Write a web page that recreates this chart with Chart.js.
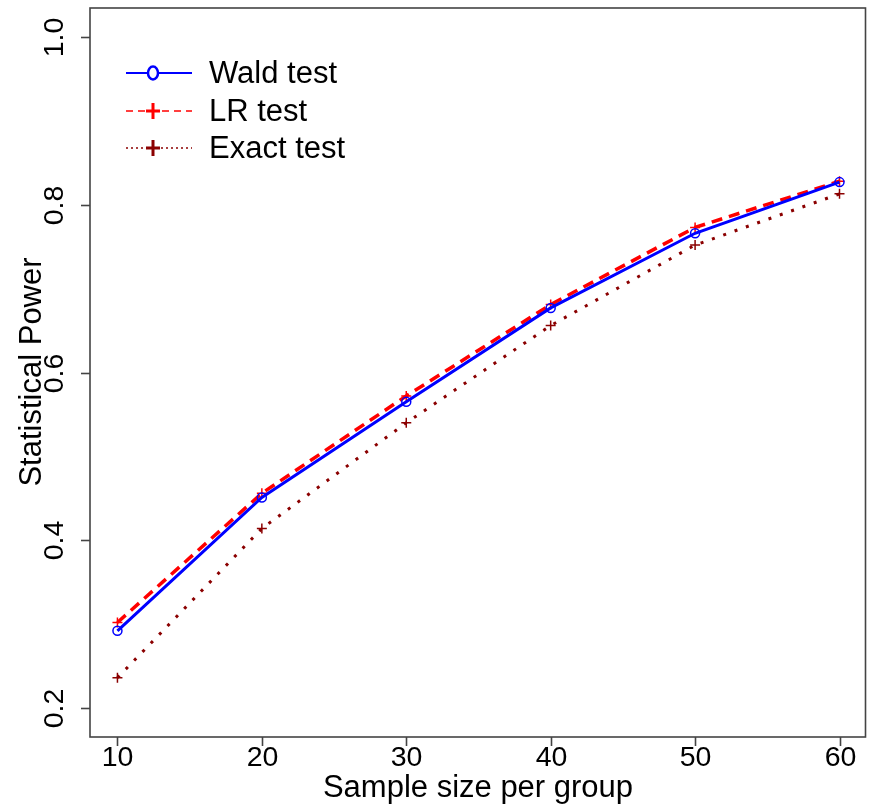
<!DOCTYPE html>
<html>
<head>
<meta charset="utf-8">
<script src="https://cdn.jsdelivr.net/npm/chart.js@4.4.1/dist/chart.umd.min.js"></script>
<style>
  html, body { margin: 0; padding: 0; background: #fff; }
  #wrap { width: 872px; height: 805px; }
</style>
</head>
<body>
<div id="wrap"><canvas id="powerChart" width="872" height="805"></canvas></div>
<script>
// --- Data ----------------------------------------------------------------
var sampleSizes = [10, 20, 30, 40, 50, 60];
var waldPower   = [0.292, 0.451, 0.565, 0.677, 0.766, 0.827];
var lrPower     = [0.302, 0.456, 0.572, 0.681, 0.773, 0.828];
var exactPower  = [0.236, 0.414, 0.540, 0.656, 0.752, 0.813];

var xTicks = [10, 20, 30, 40, 50, 60];
var yTicks = [0.2, 0.4, 0.6, 0.8, 1.0];
var yTickLabels = ['0.2', '0.4', '0.6', '0.8', '1.0'];

var seriesNames = ['Wald test', 'LR test', 'Exact test'];

var FONT = '"Liberation Sans", Arial, sans-serif';

function toPoints(ys){
  return sampleSizes.map(function(x, i){ return { x: x, y: ys[i] }; });
}

// --- R-style frame, ticks, labels and legend ------------------------------
var frameAxes = {
  id: 'frameAxes',
  afterDraw: function(chart){
    var ctx = chart.ctx;
    var a = chart.chartArea;
    var xs = chart.scales.x, ys = chart.scales.y;
    ctx.save();

    // box
    ctx.strokeStyle = '#444';
    ctx.lineWidth = 1.6;
    ctx.strokeRect(a.left, a.top, a.right - a.left, a.bottom - a.top);

    // x ticks + labels
    ctx.fillStyle = '#000';
    ctx.font = '28.5px ' + FONT;
    ctx.textAlign = 'center';
    ctx.textBaseline = 'middle';
    xTicks.forEach(function(t){
      var px = Math.round(xs.getPixelForValue(t)) + 0.5;
      ctx.beginPath();
      ctx.moveTo(px, a.bottom);
      ctx.lineTo(px, a.bottom + 9);
      ctx.stroke();
      ctx.fillText(String(t), px, a.bottom + 21);
    });

    // y ticks + rotated labels
    yTicks.forEach(function(t, i){
      var py = Math.round(ys.getPixelForValue(t)) + 0.5;
      ctx.beginPath();
      ctx.moveTo(a.left, py);
      ctx.lineTo(a.left - 9, py);
      ctx.stroke();
      ctx.save();
      ctx.translate(a.left - 35, py);
      ctx.rotate(-Math.PI / 2);
      ctx.fillText(yTickLabels[i], 0, 0);
      ctx.restore();
    });

    // axis titles
    ctx.font = '31px ' + FONT;
    ctx.fillText('Sample size per group', 478, 788);
    ctx.save();
    ctx.translate(32, 372);
    ctx.rotate(-Math.PI / 2);
    ctx.fillText('Statistical Power', 0, 0);
    ctx.restore();

    // legend
    var rows = [73, 111, 148];
    ctx.textAlign = 'left';
    chart.data.datasets.forEach(function(ds, i){
      var y = rows[i];
      ctx.save();
      ctx.strokeStyle = ds.borderColor;
      ctx.lineWidth = ds.legendWidth;
      ctx.setLineDash(ds.legendDash || []);
      ctx.beginPath();
      ctx.moveTo(126, y);
      ctx.lineTo(192, y);
      ctx.stroke();
      ctx.setLineDash([]);
      ctx.lineWidth = 2.5;
      ctx.beginPath();
      if (ds.pointStyle === 'circle'){
        ctx.fillStyle = '#fff';
        ctx.ellipse(153, y, 5, 6.5, 0, 0, Math.PI * 2);
        ctx.fill();
        ctx.stroke();
      } else {
        ctx.lineWidth = 3;
        ctx.moveTo(153 - 7, y); ctx.lineTo(153 + 7, y);
        ctx.moveTo(153, y - 8); ctx.lineTo(153, y + 8);
        ctx.stroke();
      }
      ctx.restore();
      ctx.fillStyle = '#000';
      ctx.fillText(seriesNames[i], 209, y + 1);
    });

    ctx.restore();
  }
};

// --- Chart ------------------------------------------------------------------
var canvas = document.getElementById('powerChart');
new Chart(canvas.getContext('2d'), {
  type: 'line',
  data: {
    datasets: [{
      label: seriesNames[0],
      data: toPoints(waldPower),
      borderColor: '#0000ff',
      borderWidth: 3,
      legendWidth: 1.8,
      pointStyle: 'circle',
      pointRadius: 4.5,
      pointBorderWidth: 1.5,
      pointBorderColor: '#0000ff',
      pointBackgroundColor: 'rgba(255,255,255,0)',
      tension: 0,
      order: 1
    },{
      label: seriesNames[1],
      data: toPoints(lrPower),
      borderColor: '#ff0000',
      borderWidth: 3.5,
      legendWidth: 1.3,
      borderDash: [11, 7],
      legendDash: [7, 5],
      pointStyle: 'cross',
      pointRadius: 5,
      pointBorderWidth: 1.5,
      pointBorderColor: '#ff0000',
      pointBackgroundColor: '#ff0000',
      tension: 0,
      order: 2
    },{
      label: seriesNames[2],
      data: toPoints(exactPower),
      borderColor: '#8b0000',
      borderWidth: 3,
      legendWidth: 1.3,
      borderDash: [3, 9],
      legendDash: [2, 3],
      pointStyle: 'cross',
      pointRadius: 5,
      pointBorderWidth: 1.5,
      pointBorderColor: '#8b0000',
      pointBackgroundColor: '#8b0000',
      tension: 0,
      order: 3
    }]
  },
  options: {
    responsive: false,
    animation: false,
    layout: { padding: { left: 90, top: 8, right: 5, bottom: 68 } },
    scales: {
      x: { type: 'linear', min: 8.1, max: 61.8, display: false },
      y: { type: 'linear', min: 0.1654, max: 1.0346, display: false }
    },
    plugins: {
      legend: { display: false },
      tooltip: { enabled: false }
    }
  },
  plugins: [frameAxes]
});
</script>
</body>
</html>
